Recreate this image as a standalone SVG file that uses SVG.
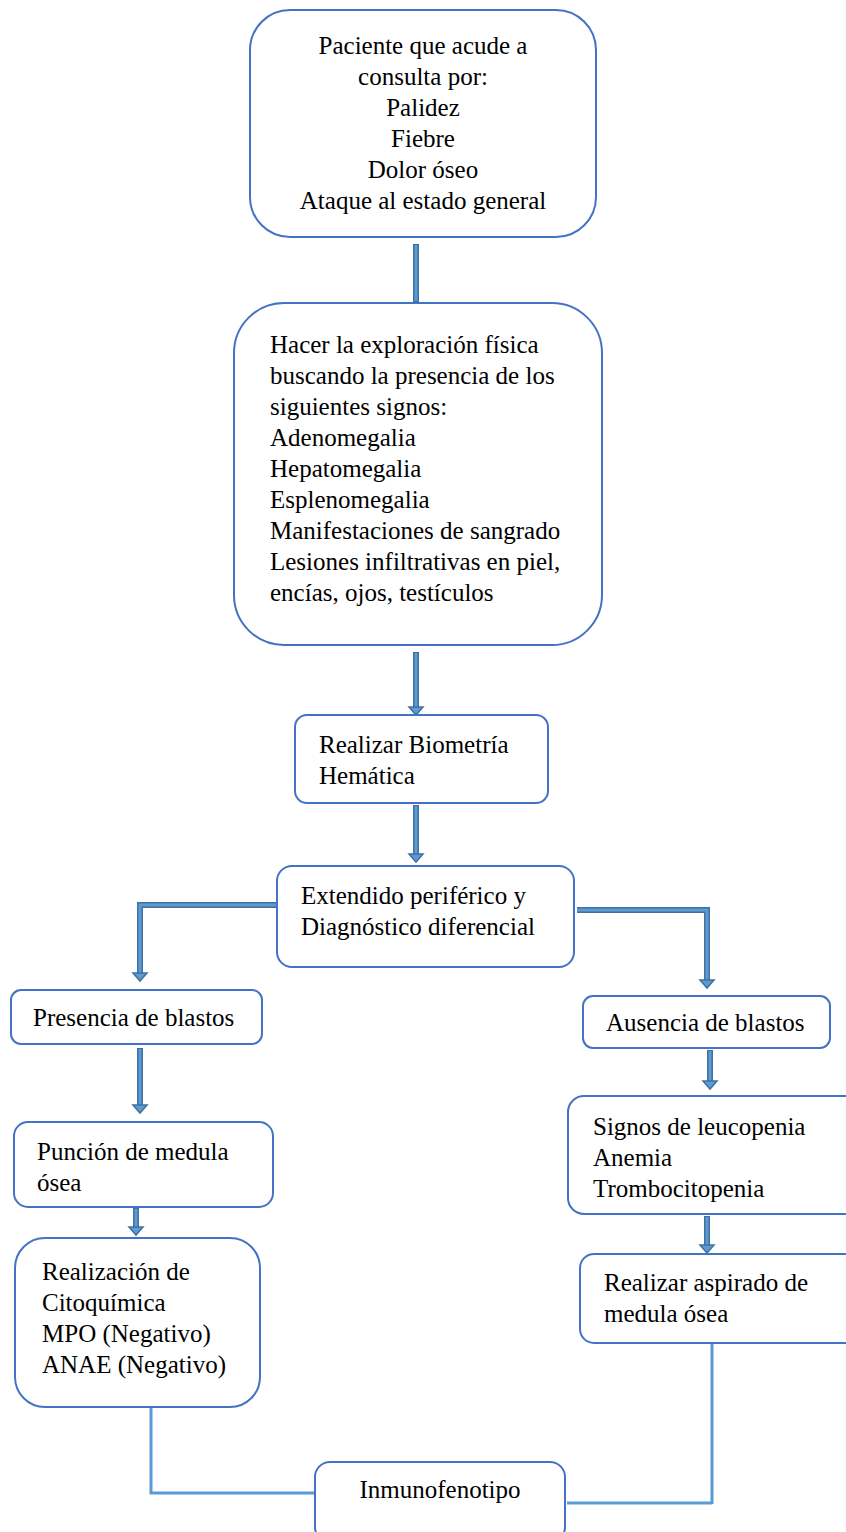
<svg xmlns="http://www.w3.org/2000/svg" width="846" height="1532" viewBox="0 0 846 1532">
<style>
.box{fill:#fff;stroke:#4472C4;stroke-width:2}
.t{font-family:"Liberation Serif","Times New Roman",serif;font-size:25px;fill:#000}
.c{text-anchor:middle}
.ao{fill:none;stroke:#41719C;stroke-width:6;stroke-linejoin:miter}
.ai{fill:none;stroke:#5B9BD5;stroke-width:3;stroke-linejoin:miter}
.ah{fill:#5B9BD5;stroke:#41719C;stroke-width:1.5;stroke-linejoin:miter}
.ln{fill:none;stroke:#5B9BD5;stroke-width:3}
</style>
<rect width="846" height="1532" fill="#fff"/>
<g id="connectors">
<path class="ao" d="M416 244V302"/><path class="ai" d="M416 245V301"/>
<path class="ao" d="M416 652V707"/><path class="ai" d="M416 653V707"/><polygon class="ah" points="409,707 423,707 416,715"/>
<path class="ao" d="M416 805V854"/><path class="ai" d="M416 806V854"/><polygon class="ah" points="409,854 423,854 416,862"/>
<path class="ao" d="M277 905H140V973"/><path class="ai" d="M277 905H140V973"/><polygon class="ah" points="133,973 147,973 140,981"/>
<path class="ao" d="M577 910H707V980"/><path class="ai" d="M577 910H707V980"/><polygon class="ah" points="700,980 714,980 707,988"/>
<path class="ao" d="M140 1048V1105"/><path class="ai" d="M140 1049V1105"/><polygon class="ah" points="133,1105 147,1105 140,1113"/>
<path class="ao" d="M710 1050V1081"/><path class="ai" d="M710 1051V1081"/><polygon class="ah" points="703,1081 717,1081 710,1089"/>
<path class="ao" d="M136 1208V1227"/><path class="ai" d="M136 1209V1227"/><polygon class="ah" points="129,1227 143,1227 136,1235"/>
<path class="ao" d="M707 1216V1245"/><path class="ai" d="M707 1217V1245"/><polygon class="ah" points="700,1245 714,1245 707,1253"/>
<path class="ln" d="M151 1407V1493H314"/>
<path class="ln" d="M712 1343V1504M567 1503H712"/>
</g>
<g id="n1"><rect class="box" x="250" y="10" width="346" height="227" rx="40"/>
<text class="t c" x="423" y="54">Paciente que acude a</text>
<text class="t c" x="423" y="85">consulta por:</text>
<text class="t c" x="423" y="116">Palidez</text>
<text class="t c" x="423" y="147">Fiebre</text>
<text class="t c" x="423" y="178">Dolor óseo</text>
<text class="t c" x="423" y="209">Ataque al estado general</text></g>
<g id="n2"><rect class="box" x="234" y="303" width="368" height="342" rx="50"/>
<text class="t" x="270" y="353">Hacer la exploración física</text>
<text class="t" x="270" y="384">buscando la presencia de los</text>
<text class="t" x="270" y="415">siguientes signos:</text>
<text class="t" x="270" y="446">Adenomegalia</text>
<text class="t" x="270" y="477">Hepatomegalia</text>
<text class="t" x="270" y="508">Esplenomegalia</text>
<text class="t" x="270" y="539">Manifestaciones de sangrado</text>
<text class="t" x="270" y="570">Lesiones infiltrativas en piel,</text>
<text class="t" x="270" y="601">encías, ojos, testículos</text></g>
<g id="n3"><rect class="box" x="295" y="715" width="253" height="88" rx="12"/>
<text class="t" x="319" y="753">Realizar Biometría</text>
<text class="t" x="319" y="784">Hemática</text></g>
<g id="n4"><rect class="box" x="277" y="866" width="297" height="101" rx="15"/>
<text class="t" x="301" y="904">Extendido periférico y</text>
<text class="t" x="301" y="935">Diagnóstico diferencial</text></g>
<g id="n5"><rect class="box" x="11" y="990" width="251" height="54" rx="10"/>
<text class="t" x="33" y="1026">Presencia de blastos</text></g>
<g id="n6"><rect class="box" x="583" y="996" width="247" height="52" rx="10"/>
<text class="t" x="606" y="1031">Ausencia de blastos</text></g>
<g id="n7"><rect class="box" x="14" y="1122" width="259" height="85" rx="14"/>
<text class="t" x="37" y="1160">Punción de medula</text>
<text class="t" x="37" y="1191">ósea</text></g>
<g id="n8"><rect class="box" x="568" y="1096" width="300" height="118" rx="16"/>
<text class="t" x="593" y="1135">Signos de leucopenia</text>
<text class="t" x="593" y="1166">Anemia</text>
<text class="t" x="593" y="1197">Trombocitopenia</text></g>
<g id="n9"><rect class="box" x="15" y="1238" width="245" height="169" rx="30"/>
<text class="t" x="42" y="1280">Realización de</text>
<text class="t" x="42" y="1311">Citoquímica</text>
<text class="t" x="42" y="1342">MPO (Negativo)</text>
<text class="t" x="42" y="1373">ANAE (Negativo)</text></g>
<g id="n10"><rect class="box" x="580" y="1254" width="290" height="89" rx="14"/>
<text class="t" x="604" y="1291">Realizar aspirado de</text>
<text class="t" x="604" y="1322">medula ósea</text></g>
<g id="n11"><rect class="box" x="315" y="1462" width="250" height="80" rx="15"/>
<text class="t c" x="440" y="1498">Inmunofenotipo</text></g>
</svg>
